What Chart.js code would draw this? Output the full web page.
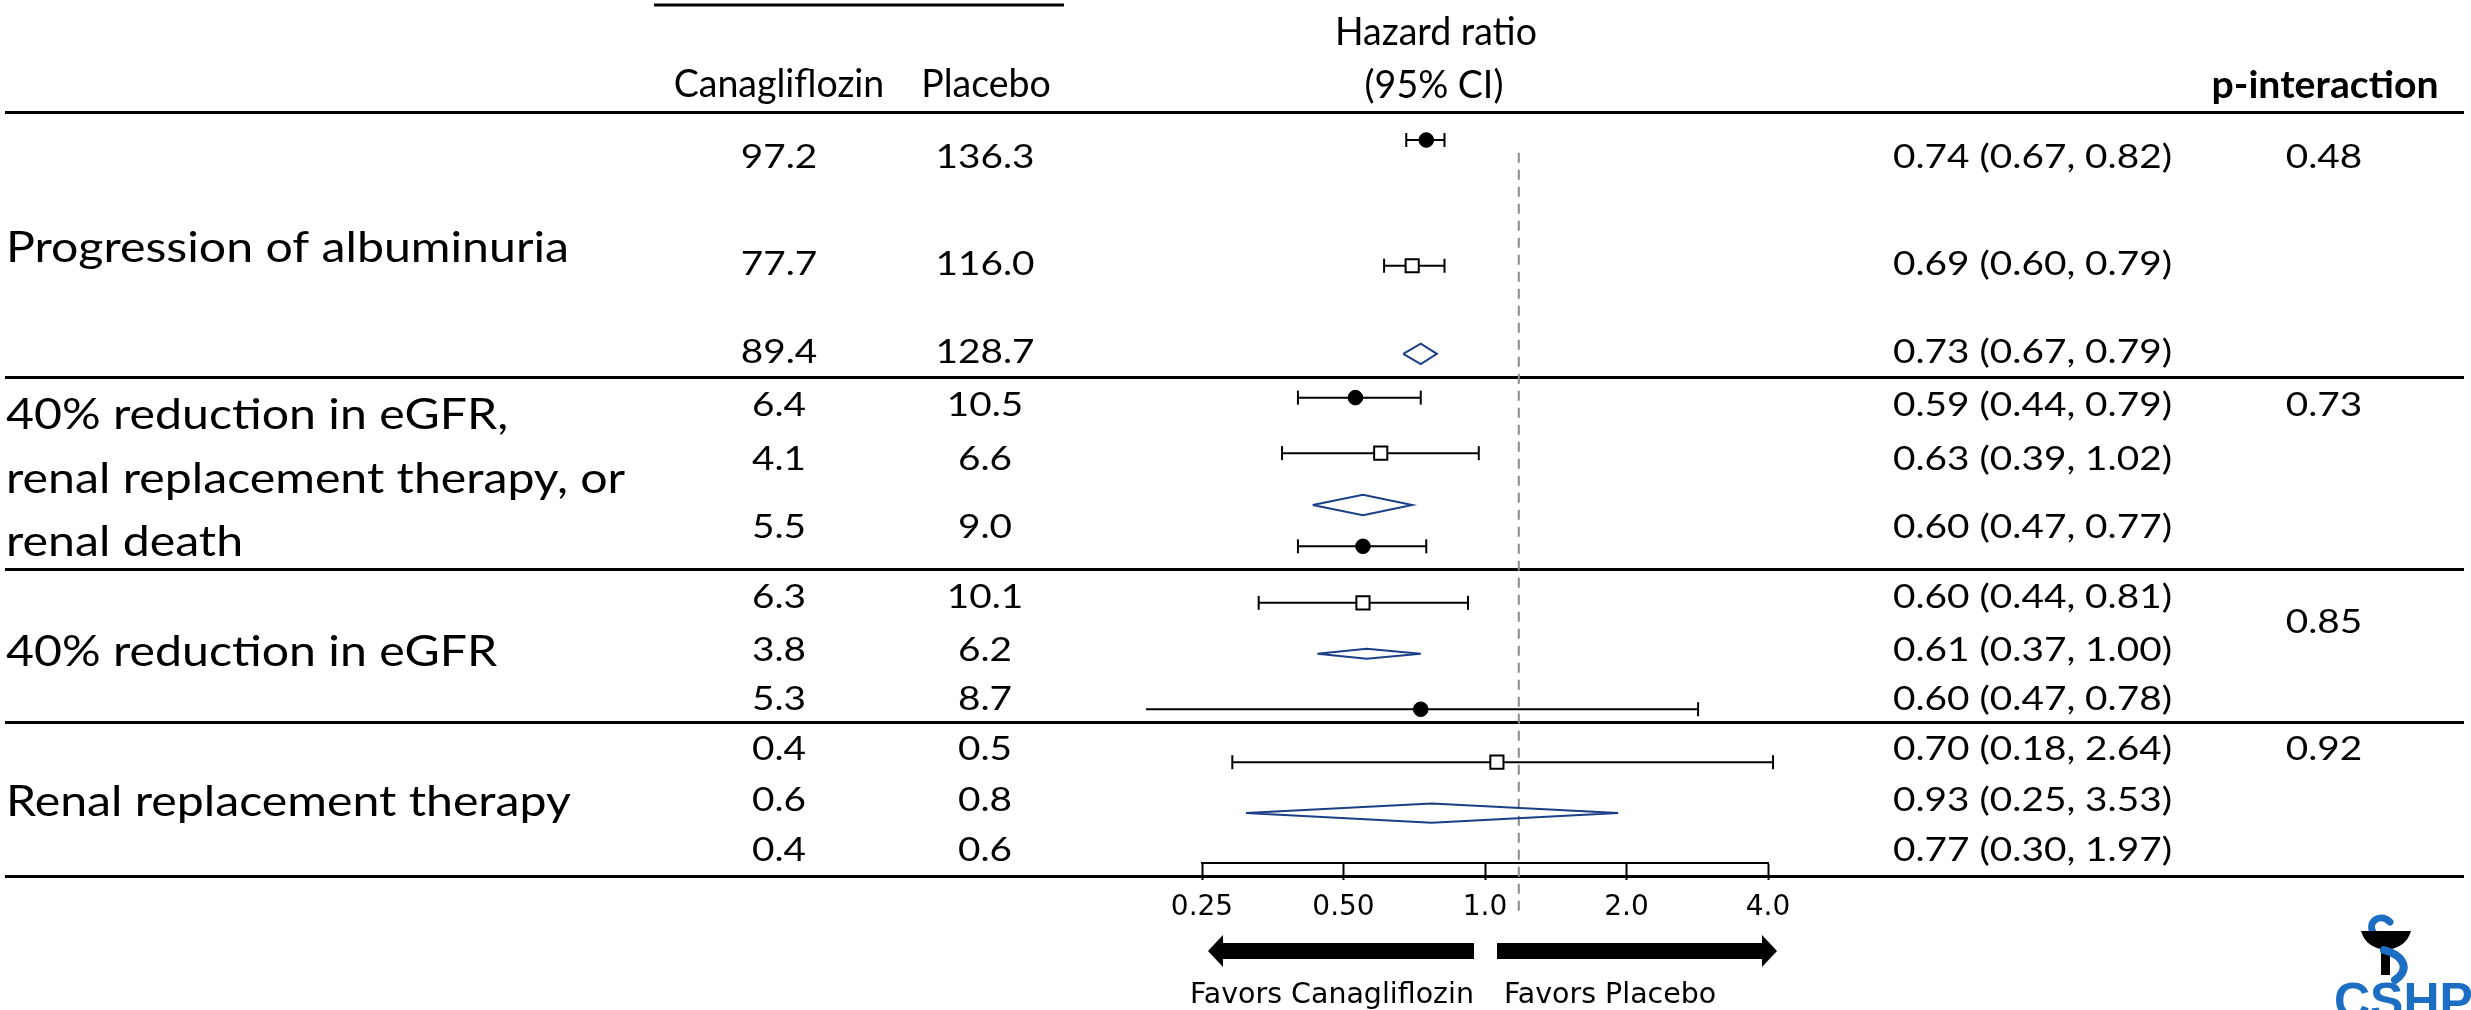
<!DOCTYPE html>
<html>
<head>
<meta charset="utf-8">
<script src="https://cdn.jsdelivr.net/npm/chart.js@4.4.1/dist/chart.umd.min.js"></script>
<style>
  html, body { margin: 0; padding: 0; background: #fff; }
  canvas { display: block; }
</style>
</head>
<body>
<canvas id="forestChart" width="2471" height="1010"></canvas>
<script>
// ---- data ----
const outcomes = [
  ['Progression of albuminuria'],
  ['40% reduction in eGFR,', 'renal replacement therapy, or', 'renal death'],
  ['40% reduction in eGFR'],
  ['Renal replacement therapy']
];
const canaRates = ['97.2', '77.7', '89.4', '6.4', '4.1', '5.5', '6.3', '3.8', '5.3', '0.4', '0.6', '0.4'];
const placeboRates = ['136.3', '116.0', '128.7', '10.5', '6.6', '9.0', '10.1', '6.2', '8.7', '0.5', '0.8', '0.6'];
const hrLabels = [
  '0.74 (0.67, 0.82)', '0.69 (0.60, 0.79)', '0.73 (0.67, 0.79)',
  '0.59 (0.44, 0.79)', '0.63 (0.39, 1.02)', '0.60 (0.47, 0.77)',
  '0.60 (0.44, 0.81)', '0.61 (0.37, 1.00)', '0.60 (0.47, 0.78)',
  '0.70 (0.18, 2.64)', '0.93 (0.25, 3.53)', '0.77 (0.30, 1.97)'
];
const pInteraction = ['0.48', '0.73', '0.85', '0.92'];

// markers as they are drawn on the axis
const markerKind = ['dot', 'square', 'diamond', 'dot', 'square', 'diamond', 'dot', 'square', 'diamond', 'dot', 'square', 'diamond'];
const hrPlot = [0.75, 0.70, 0.73, 0.53, 0.60, 0.55, 0.55, 0.55, 0.56, 0.73, 1.06, 0.77];
const ciLow  = [0.68, 0.61, 0.67, 0.40, 0.37, 0.43, 0.40, 0.33, 0.44, 0.19, 0.29, 0.31];
const ciHigh = [0.82, 0.82, 0.79, 0.73, 0.97, 0.70, 0.75, 0.92, 0.73, 2.84, 4.10, 1.92];
const refLine = 1.18;

// row positions (row units, top of table = 0)
const markerRow = [0.55, 3.02, 4.75, 5.61, 6.70, 7.72, 8.53, 9.64, 10.64, 11.73, 12.77, 13.77];
const textRow = [0.88, 2.97, 4.71, 5.75, 6.81, 8.15, 9.52, 10.56, 11.51, 12.50, 13.51, 14.49];
const labelRows = [[2.65], [5.93, 7.19, 8.42], [10.57], [13.53]];
const pRow = [0.88, 5.75, 10.01, 12.50];
const groupRules = [0, 5.2, 8.97, 11.98, 15];

const tickValues = [0.25, 0.5, 1, 2, 4];
const tickLabels = ['0.25', '0.50', '1.0', '2.0', '4.0'];

// ---- styles ----
const diamondColor = '#1a3f85';
const diamondHalf = [0.2, 0.2, 0.1, 0.19];
const SANS = 'Lato, "Open Sans", sans-serif';
const VERD = '"DejaVu Sans", Verdana, sans-serif';

const datasets = [];

// confidence intervals with end caps
markerKind.forEach((k, i) => {
  if (k === 'diamond') return;
  datasets.push({
    type: 'line',
    showLine: true,
    data: [{ x: ciLow[i], y: markerRow[i] }, { x: ciHigh[i], y: markerRow[i] }],
    borderColor: '#000',
    borderWidth: 2,
    pointStyle: 'line',
    pointRotation: 90,
    pointRadius: 7,
    pointBorderWidth: 2,
    pointBorderColor: '#000',
    clip: false,
    order: 3
  });
});

// pooled diamonds
let d = 0;
markerKind.forEach((k, i) => {
  if (k !== 'diamond') return;
  const h = diamondHalf[d++];
  datasets.push({
    type: 'line',
    showLine: true,
    data: [
      { x: ciLow[i], y: markerRow[i] },
      { x: hrPlot[i], y: markerRow[i] - h },
      { x: ciHigh[i], y: markerRow[i] },
      { x: hrPlot[i], y: markerRow[i] + h },
      { x: ciLow[i], y: markerRow[i] }
    ],
    borderColor: diamondColor,
    borderWidth: 2,
    borderJoinStyle: 'miter',
    pointRadius: 0,
    fill: false,
    tension: 0,
    clip: false,
    order: 1
  });
});

// point estimates
datasets.push({
  data: markerKind.map((k, i) => k === 'dot' ? { x: hrPlot[i], y: markerRow[i] } : null).filter(Boolean),
  pointStyle: 'circle',
  pointRadius: 7.3,
  backgroundColor: '#000',
  borderColor: '#000',
  borderWidth: 1,
  clip: false,
  order: 0
});
datasets.push({
  data: markerKind.map((k, i) => k === 'square' ? { x: hrPlot[i], y: markerRow[i] } : null).filter(Boolean),
  pointStyle: 'rect',
  pointRadius: 9.3,
  backgroundColor: '#fff',
  borderColor: '#000',
  borderWidth: 2,
  clip: false,
  order: 0
});

// dashed reference line
datasets.push({
  type: 'line',
  showLine: true,
  data: [{ x: refLine, y: 0.8 }, { x: refLine, y: 15.77 }],
  borderColor: '#8a8a8a',
  borderWidth: 2,
  borderDash: [10, 7],
  pointRadius: 0,
  clip: false,
  order: 5
});

function makeStretch(c, font, sample, target) {
  c.save();
  c.font = font;
  const w = c.measureText(sample).width;
  c.restore();
  return target / w;
}

function putText(c, txt, x, yMid, style, align) {
  c.save();
  c.font = style.font;
  c.fillStyle = style.color || '#000';
  c.textBaseline = 'alphabetic';
  c.textAlign = 'left';
  const w = c.measureText(txt).width * style.sx;
  const left = align === 'center' ? x - w / 2 : align === 'right' ? x - w : x;
  c.translate(left, yMid + style.cap / 2);
  c.scale(style.sx, 1);
  c.fillText(txt, 0, 0);
  c.restore();
}

function arrow(c, tipX, baseX, endX, y, headHalf, bodyHalf) {
  c.beginPath();
  c.moveTo(tipX, y);
  c.lineTo(baseX, y - headHalf);
  c.lineTo(baseX, y - bodyHalf);
  c.lineTo(endX, y - bodyHalf);
  c.lineTo(endX, y + bodyHalf);
  c.lineTo(baseX, y + bodyHalf);
  c.lineTo(baseX, y + headHalf);
  c.closePath();
  c.fill();
}

const tablePlugin = {
  id: 'forestTable',
  beforeDraw(chart) {
    const c = chart.ctx;
    c.save();
    c.fillStyle = '#fff';
    c.fillRect(0, 0, chart.width, chart.height);
    c.restore();
  },
  beforeDatasetsDraw(chart) {
    const c = chart.ctx;
    const y = chart.scales.y;
    c.save();
    c.strokeStyle = '#000';
    c.lineWidth = 3;
    c.beginPath();
    c.moveTo(654, 5); c.lineTo(1064, 5);
    groupRules.forEach(r => {
      const py = Math.round(y.getPixelForValue(r)) + 0.5;
      c.moveTo(5, py); c.lineTo(2464, py);
    });
    c.stroke();
    c.restore();
  },
  afterDraw(chart) {
    const c = chart.ctx;
    const y = chart.scales.y;
    const head = { font: '38px ' + SANS, cap: 27.2 };
    head.sx = makeStretch(c, head.font, 'Hazard ratio', 202);
    const headB = { font: 'bold 38px ' + SANS, cap: 27.2 };
    headB.sx = makeStretch(c, headB.font, 'p-interaction', 227);
    const label = { font: '43px ' + SANS, cap: 30.8 };
    label.sx = makeStretch(c, label.font, 'Progression of albuminuria', 563);
    const num = { font: '32px ' + SANS, cap: 23 };
    num.sx = makeStretch(c, num.font, '0.74 (0.67, 0.82)', 279);
    const fav = { font: '28px ' + VERD, cap: 20.4 };
    fav.sx = makeStretch(c, fav.font, 'Favors Canagliflozin', 284);

    putText(c, 'Hazard ratio', 1436, 31.5, head, 'center');
    putText(c, '(95% CI)', 1434, 84, head, 'center');
    putText(c, 'Canagliflozin', 779, 83, head, 'center');
    putText(c, 'Placebo', 986, 83, head, 'center');
    putText(c, 'p-interaction', 2325, 84, headB, 'center');

    outcomes.forEach((lines, g) => {
      lines.forEach((ln, j) => putText(c, ln, 6, y.getPixelForValue(labelRows[g][j]), label, 'left'));
    });
    textRow.forEach((r, i) => {
      const py = y.getPixelForValue(r);
      putText(c, canaRates[i], 779, py, num, 'center');
      putText(c, placeboRates[i], 985, py, num, 'center');
      putText(c, hrLabels[i], 1893, py, num, 'left');
    });
    pRow.forEach((r, g) => putText(c, pInteraction[g], 2324, y.getPixelForValue(r), num, 'center'));

    // direction arrows
    c.save();
    c.fillStyle = '#000';
    arrow(c, 1208, 1223, 1474, 951, 16, 8);
    arrow(c, 1777, 1762, 1497, 951, 16, 8);
    c.restore();
    putText(c, 'Favors Canagliflozin', 1474, 993, fav, 'right');
    putText(c, 'Favors Placebo', 1504, 993, fav, 'left');

    // society logo (bottom right, cut by the frame)
    c.save();
    const blue = '#1b6ec2';
    c.strokeStyle = blue;
    c.lineCap = 'round';
    c.lineWidth = 7;
    c.beginPath();
    c.moveTo(2374, 934);
    c.bezierCurveTo(2366, 922, 2380, 912, 2390, 922);
    c.stroke();
    c.fillStyle = '#000';
    c.beginPath();
    c.moveTo(2361, 931);
    c.lineTo(2411, 931);
    c.quadraticCurveTo(2406, 948, 2386, 950);
    c.quadraticCurveTo(2366, 948, 2361, 931);
    c.fill();
    c.fillRect(2381, 948, 9, 27);
    c.strokeStyle = blue;
    c.lineWidth = 8;
    c.beginPath();
    c.moveTo(2384, 950);
    c.bezierCurveTo(2408, 957, 2408, 972, 2395, 980);
    c.stroke();
    c.fillStyle = blue;
    c.font = 'bold 50px "Liberation Sans", Arial, sans-serif';
    c.textBaseline = 'alphabetic';
    c.fillText('CSHP', 2334, 1018);
    c.restore();
  }
};

new Chart(document.getElementById('forestChart'), {
  type: 'scatter',
  data: { datasets },
  options: {
    responsive: false,
    animation: false,
    devicePixelRatio: 1,
    layout: { padding: { left: 1202, right: 703, top: 112, bottom: 0 } },
    plugins: {
      legend: { display: false },
      tooltip: { enabled: false }
    },
    scales: {
      x: {
        type: 'logarithmic',
        min: 0.25,
        max: 4,
        afterBuildTicks: (scale) => { scale.ticks = tickValues.map(v => ({ value: v })); },
        afterFit: (scale) => { scale.height = 147; },
        ticks: {
          autoSkip: false,
          maxRotation: 0,
          padding: 11,
          color: '#000',
          font: { family: VERD, size: 28 },
          callback: (v, i) => tickLabels[i]
        },
        grid: { drawOnChartArea: false, drawTicks: true, tickLength: 17, tickWidth: 2, color: '#000' },
        border: { display: true, color: '#000', width: 2 }
      },
      y: { display: false, min: 0, max: 14.75, reverse: true }
    }
  },
  plugins: [tablePlugin]
});
</script>
</body>
</html>
